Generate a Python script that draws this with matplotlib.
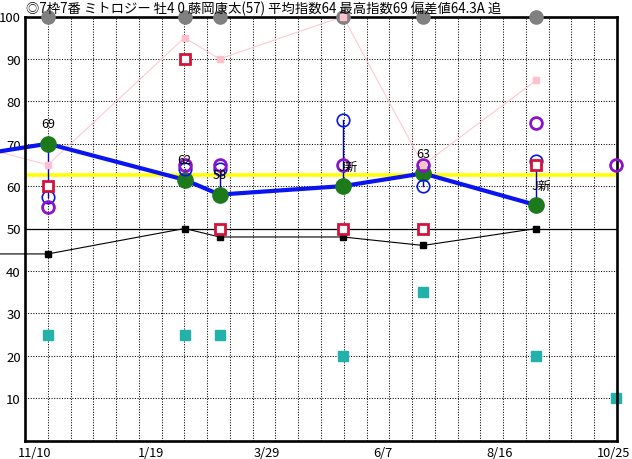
import numpy as np
import matplotlib
matplotlib.use('Agg')
import matplotlib.pyplot as plt
import matplotlib.transforms as mtransforms

plt.rcParams['font.family'] = ['Noto Sans CJK JP', 'DejaVu Sans']

# --- data (x = days from 11/10) ---
title = '◎7枠7番 ミトロジー 牡4 0 藤岡康太(57) 平均指数64 最高指数69 偏差値64.3A 追'
tick_pos = [0, 70, 139, 209, 279, 349]
tick_lab = ['11/10', '1/19', '3/29', '6/7', '8/16', '10/25']

days = [8, 90, 111, 185, 233, 301]
prev_day = -40
next_day = 349

idx = [70, 61.5, 58, 60, 63, 55.5]
idx_lab = ['69', '62', '58', 'J新', '63', 'J新']
idx_prev = 67
pink = [65, 95, 90, 100, 65, 85]
pink_prev = 70
black = [44, 50, 48, 48, 46, 50]
black_prev = 44
blue_c = [57.5, 64, 64, 75.5, 60, 66]
red_sq = [60, 90, 50, 50, 50, 65]
purple = [55, 65, 65, 65, 65, 75]
purple_next = 65
teal = [25, 25, 25, 20, 35, 20]
teal_next = 10
avg_line = 62.6
base_line = 50

fig = plt.figure(figsize=(6.32, 4.60), dpi=100)
ax = fig.add_axes([25/632, 18.5/460, 592/632, 424/460])
xmin, xmax = -5.7, 349.3
ax.set_xlim(xmin, xmax)
ax.set_ylim(0, 100)

# grid
for gx in np.linspace(xmin, xmax, 27)[1:-1]:
    ax.axvline(gx, color='black', lw=0.75, ls=(0, (1, 1.5)), zorder=1)
for gy in range(10, 100, 10):
    ax.axhline(gy, color='black', lw=0.75, ls=(0, (1, 1.5)), zorder=1)
ax.axhline(base_line, color='black', lw=0.9, zorder=2)
ax.axhline(avg_line, color='#ffff00', lw=2.6, zorder=2)

px = [prev_day] + days
# black series
ax.plot(px, [black_prev] + black, color='black', lw=0.8, marker='s', ms=5,
        clip_on=False, zorder=3)
# pink series
ax.plot(px, [pink_prev] + pink, color='#ffc8d2', lw=0.8, zorder=3, clip_on=False)
# teal squares
ax.plot(days + [next_day], teal + [teal_next], ls='none', marker='s', ms=6.5,
        color='#22b2aa', clip_on=False, zorder=3)
# vertical connectors
for d, a, b in zip(days, idx, blue_c):
    ax.plot([d, d], [a, b], color='#0000c8', lw=1, zorder=4)
# main index line
ax.plot(px, [idx_prev] + idx, color='#0a14f0', lw=3, zorder=5, clip_on=False)
ax.plot(days, idx, ls='none', marker='o', ms=11, color='#1c7a1c', zorder=6)
# blue circles
ax.plot(days, blue_c, ls='none', marker='o', ms=9, mfc='none', mec='#0a14e6',
        mew=1.2, zorder=7)
# red squares
ax.plot(days, red_sq, ls='none', marker='s', ms=7.5, mfc='white', mec='#d2143c',
        mew=2, zorder=8)
# purple circles
ax.plot(days + [next_day], purple + [purple_next], ls='none', marker='o', ms=8.5,
        mfc='none', mec='#8c14c8', mew=2, zorder=9, clip_on=False)
# grey dots at top
ax.plot(days, [100] * len(days), ls='none', marker='o', ms=9.5, color='#808080',
        clip_on=False, zorder=9)
# pink markers
ax.plot(days, pink, ls='none', marker='s', ms=5, color='#ffbfcc', zorder=10,
        clip_on=False)

for d, v, lab in zip(days, idx, idx_lab):
    dx = 5 if '新' in lab else 0
    ax.annotate(lab, (d, v), xytext=(dx, 20), textcoords='offset pixels',
                ha='center', va='center', fontsize=9, zorder=11)

ax.set_xticks(tick_pos)
ax.set_xticklabels(tick_lab)
ax.set_yticks(range(10, 101, 10))
ax.tick_params(length=0, labelsize=9.5, pad=3)
ax.tick_params(axis='x', pad=4, labelsize=9.2)
# keep the last date label inside the canvas
last = ax.get_xticklabels()[-1]
last.set_transform(last.get_transform() +
                   mtransforms.ScaledTranslation(-3/100, 0, fig.dpi_scale_trans))
for s in ax.spines.values():
    s.set_linewidth(1.9)
    s.set_zorder(8)

fig.text(26/632, 1 - 9/460, title, fontsize=9.6, ha='left', va='center')

fig.savefig('out.png', dpi=100)
